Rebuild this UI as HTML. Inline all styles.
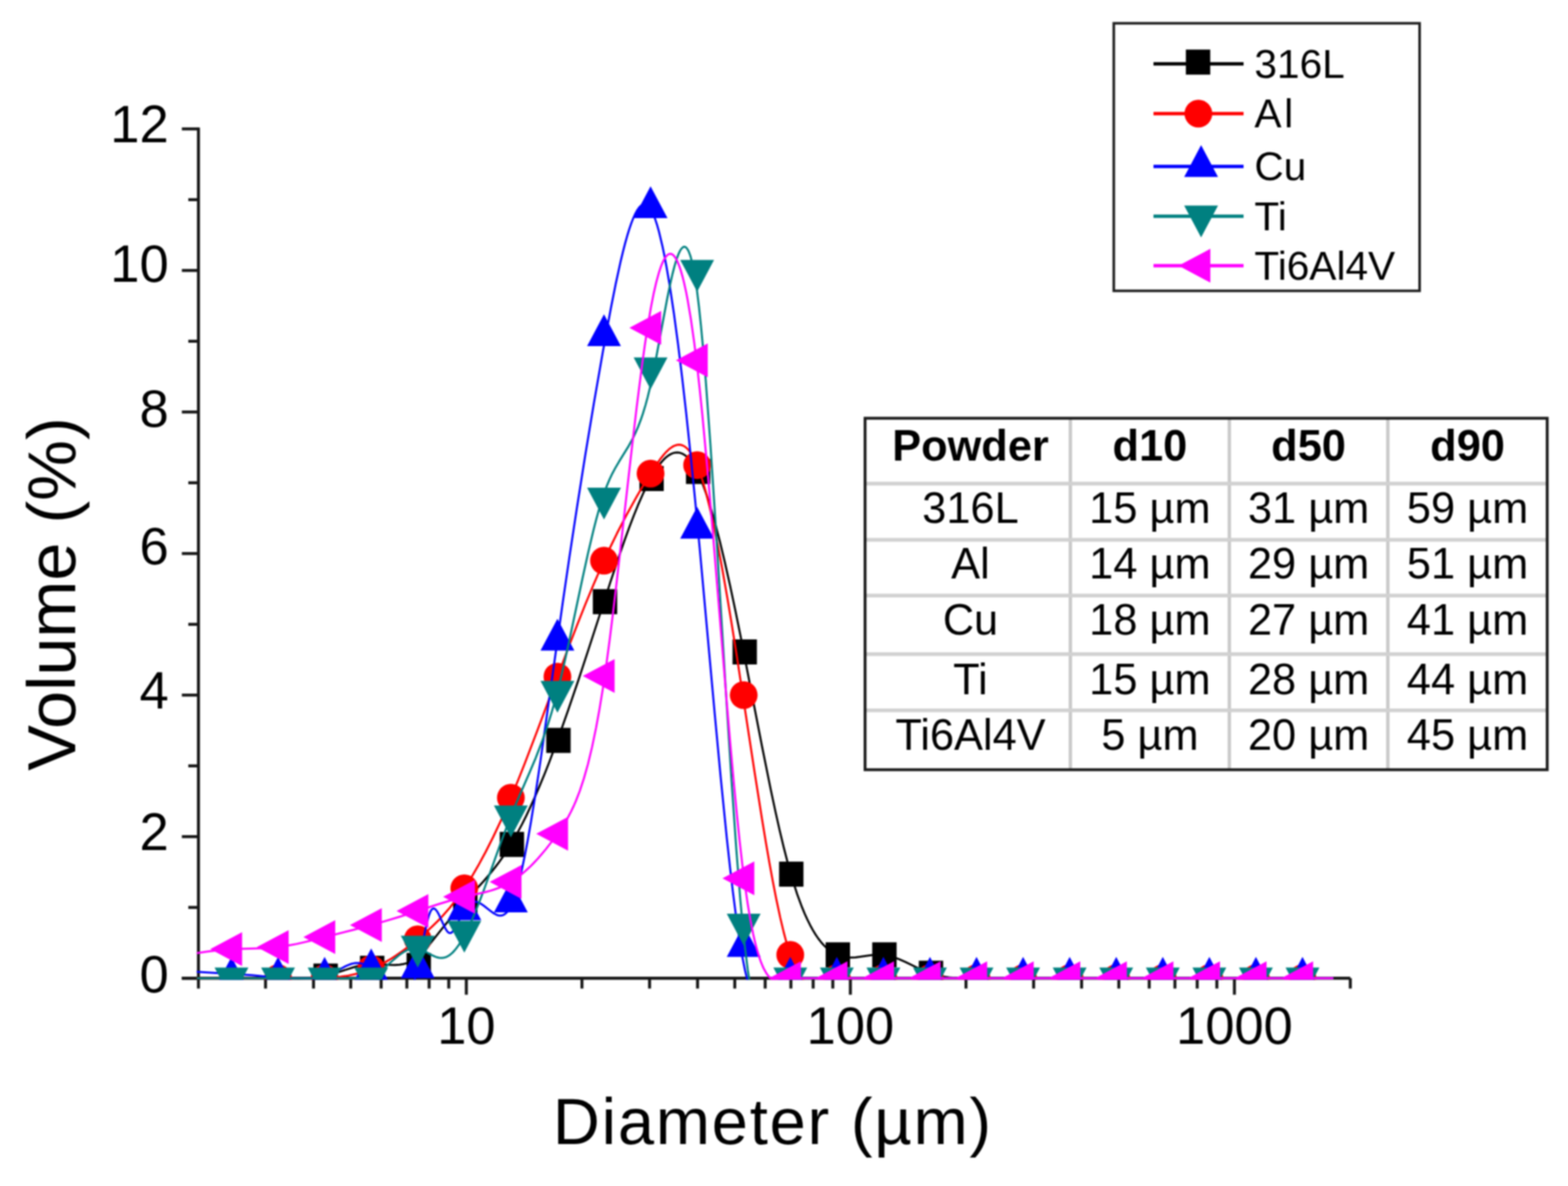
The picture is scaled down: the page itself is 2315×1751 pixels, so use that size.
<!DOCTYPE html><html><head><meta charset="utf-8"><title>Particle size distribution</title>
<style>html,body{margin:0;padding:0;background:#fff;overflow:hidden;}svg{display:block;filter:blur(0.9px);}text{font-family:"Liberation Sans", Arial, Helvetica, sans-serif;fill:#000;}</style></head><body>
<svg width="2315" height="1751" viewBox="0 0 2315 1751">
<rect width="2315" height="1751" fill="#fff"/>
<defs><clipPath id="pc"><rect x="290.5" y="188" width="1678.0" height="1258.6"/></clipPath><clipPath id="pcm"><rect x="290.5" y="188" width="1705.1" height="1258.6"/></clipPath></defs>
<path d="M293.0 188.3V1446.2" stroke="#161616" stroke-width="4.4" fill="none"/>
<path d="M268.5 1444.2H1993.6" stroke="#161616" stroke-width="4.4" fill="none"/>
<path d="M268.5 1444.20H293.0" stroke="#161616" stroke-width="4.4"/>
<path d="M278.0 1339.71H293.0" stroke="#161616" stroke-width="4.4"/>
<path d="M268.5 1235.22H293.0" stroke="#161616" stroke-width="4.4"/>
<path d="M278.0 1130.73H293.0" stroke="#161616" stroke-width="4.4"/>
<path d="M268.5 1026.24H293.0" stroke="#161616" stroke-width="4.4"/>
<path d="M278.0 921.75H293.0" stroke="#161616" stroke-width="4.4"/>
<path d="M268.5 817.26H293.0" stroke="#161616" stroke-width="4.4"/>
<path d="M278.0 712.77H293.0" stroke="#161616" stroke-width="4.4"/>
<path d="M268.5 608.28H293.0" stroke="#161616" stroke-width="4.4"/>
<path d="M278.0 503.79H293.0" stroke="#161616" stroke-width="4.4"/>
<path d="M268.5 399.30H293.0" stroke="#161616" stroke-width="4.4"/>
<path d="M278.0 294.81H293.0" stroke="#161616" stroke-width="4.4"/>
<path d="M268.5 190.32H293.0" stroke="#161616" stroke-width="4.4"/>
<path d="M293.00 1444.2V1459.5" stroke="#161616" stroke-width="4.4"/>
<path d="M392.03 1444.2V1459.5" stroke="#161616" stroke-width="4.4"/>
<path d="M462.87 1444.2V1459.5" stroke="#161616" stroke-width="4.4"/>
<path d="M517.82 1444.2V1459.5" stroke="#161616" stroke-width="4.4"/>
<path d="M562.71 1444.2V1459.5" stroke="#161616" stroke-width="4.4"/>
<path d="M600.67 1444.2V1459.5" stroke="#161616" stroke-width="4.4"/>
<path d="M633.55 1444.2V1459.5" stroke="#161616" stroke-width="4.4"/>
<path d="M662.56 1444.2V1459.5" stroke="#161616" stroke-width="4.4"/>
<path d="M688.50 1444.2V1468.6" stroke="#161616" stroke-width="4.4"/>
<path d="M859.18 1444.2V1459.5" stroke="#161616" stroke-width="4.4"/>
<path d="M959.03 1444.2V1459.5" stroke="#161616" stroke-width="4.4"/>
<path d="M1029.87 1444.2V1459.5" stroke="#161616" stroke-width="4.4"/>
<path d="M1084.82 1444.2V1459.5" stroke="#161616" stroke-width="4.4"/>
<path d="M1129.71 1444.2V1459.5" stroke="#161616" stroke-width="4.4"/>
<path d="M1167.67 1444.2V1459.5" stroke="#161616" stroke-width="4.4"/>
<path d="M1200.55 1444.2V1459.5" stroke="#161616" stroke-width="4.4"/>
<path d="M1229.56 1444.2V1459.5" stroke="#161616" stroke-width="4.4"/>
<path d="M1255.50 1444.2V1468.6" stroke="#161616" stroke-width="4.4"/>
<path d="M1426.18 1444.2V1459.5" stroke="#161616" stroke-width="4.4"/>
<path d="M1526.03 1444.2V1459.5" stroke="#161616" stroke-width="4.4"/>
<path d="M1596.87 1444.2V1459.5" stroke="#161616" stroke-width="4.4"/>
<path d="M1651.82 1444.2V1459.5" stroke="#161616" stroke-width="4.4"/>
<path d="M1696.71 1444.2V1459.5" stroke="#161616" stroke-width="4.4"/>
<path d="M1734.67 1444.2V1459.5" stroke="#161616" stroke-width="4.4"/>
<path d="M1767.55 1444.2V1459.5" stroke="#161616" stroke-width="4.4"/>
<path d="M1796.56 1444.2V1459.5" stroke="#161616" stroke-width="4.4"/>
<path d="M1822.50 1444.2V1468.6" stroke="#161616" stroke-width="4.4"/>
<path d="M1993.60 1444.2V1459.5" stroke="#161616" stroke-width="4.4"/>
<text x="249" y="1464.5" font-size="77.5" text-anchor="end">0</text>
<text x="249" y="1255.1" font-size="77.5" text-anchor="end">2</text>
<text x="249" y="1045.6" font-size="77.5" text-anchor="end">4</text>
<text x="249" y="833.1" font-size="77.5" text-anchor="end">6</text>
<text x="249" y="630.0" font-size="77.5" text-anchor="end">8</text>
<text x="249" y="415.5" font-size="77.5" text-anchor="end">10</text>
<text x="249" y="210.0" font-size="77.5" text-anchor="end">12</text>
<text x="688.5" y="1541" font-size="77.5" text-anchor="middle">10</text>
<text x="1255.5" y="1541" font-size="77.5" text-anchor="middle">100</text>
<text x="1822.5" y="1541" font-size="77.5" text-anchor="middle">1000</text>
<text transform="translate(111 1138) rotate(-90)" font-size="101">Volume (%)</text>
<text x="816.3" y="1689" font-size="96" textLength="647" lengthAdjust="spacing">Diameter (µm)</text>
<g clip-path="url(#pc)">
<path d="M273.0 1444.2 410.0 1444.2 440.0 1444.8 453.0 1444.5 464.0 1443.6 474.0 1442.1 484.0 1439.9 494.0 1437.1 514.0 1430.6 523.0 1427.8 531.0 1425.8 539.0 1424.2 546.0 1423.4 553.0 1423.2 560.0 1423.5 575.0 1424.5 583.0 1424.7 590.0 1424.2 596.0 1423.2 600.0 1422.1 604.0 1420.6 608.0 1418.7 611.0 1417.0 615.0 1414.2 618.0 1411.8 621.0 1409.1 625.0 1405.0 629.0 1400.6 634.0 1394.6 654.0 1369.4 669.0 1351.3 684.0 1334.1 714.0 1301.0 723.0 1290.5 731.0 1280.5 737.0 1272.6 742.0 1265.6 752.0 1250.4 761.0 1235.1 771.0 1216.4 777.0 1204.3 784.0 1189.4 790.0 1176.0 797.0 1159.7 804.0 1142.7 811.0 1125.0 825.0 1087.6 839.0 1048.1 854.0 1003.9 869.0 958.4 901.0 859.9 914.0 821.0 922.0 798.0 929.0 778.8 936.0 760.5 942.0 745.7 950.0 727.5 958.0 711.2 962.0 703.8 966.0 697.0 970.0 690.9 973.0 686.7 977.0 681.7 980.0 678.4 984.0 674.7 987.0 672.4 991.0 670.1 994.0 668.9 997.0 668.2 1000.0 668.0 1004.0 668.6 1007.0 669.6 1010.0 671.2 1013.0 673.4 1016.0 676.2 1019.0 679.6 1022.0 683.7 1025.0 688.3 1028.0 693.6 1031.0 699.6 1034.0 706.3 1037.0 713.6 1043.0 730.0 1049.0 748.7 1056.0 773.1 1063.0 800.1 1070.0 829.3 1078.0 865.0 1086.0 902.8 1094.0 942.3 1125.0 1101.6 1138.0 1166.0 1145.0 1198.8 1151.0 1225.5 1157.0 1250.6 1163.0 1273.9 1170.0 1298.5 1177.0 1320.2 1184.0 1339.2 1188.0 1348.8 1192.0 1357.7 1196.0 1365.7 1200.0 1373.0 1204.0 1379.6 1208.0 1385.5 1212.0 1390.7 1216.0 1395.3 1220.0 1399.3 1224.0 1402.7 1230.0 1406.9 1236.0 1409.9 1239.0 1411.1 1243.0 1412.2 1246.0 1412.9 1250.0 1413.4 1256.0 1413.7 1263.0 1413.4 1270.0 1412.6 1286.0 1410.3 1295.0 1409.5 1303.0 1409.6 1307.0 1410.1 1311.0 1410.8 1319.0 1413.0 1328.0 1416.3 1337.0 1420.3 1361.0 1432.0 1368.0 1435.0 1375.0 1437.6 1383.0 1439.9 1392.0 1441.8 1401.0 1443.1 1411.0 1443.9 1428.0 1444.3 1991.0 1444.2" fill="none" stroke="#000000" stroke-width="3.0" stroke-linejoin="round"/>
</g><g clip-path="url(#pcm)">
<rect x="462.75" y="1422.57" width="36" height="37" fill="#000000"/>
<rect x="531.50" y="1411.07" width="36" height="37" fill="#000000"/>
<rect x="600.25" y="1406.89" width="36" height="37" fill="#000000"/>
<rect x="669.00" y="1313.90" width="36" height="37" fill="#000000"/>
<rect x="737.75" y="1228.21" width="36" height="37" fill="#000000"/>
<rect x="806.50" y="1074.61" width="36" height="37" fill="#000000"/>
<rect x="875.25" y="869.81" width="36" height="37" fill="#000000"/>
<rect x="944.00" y="688.00" width="36" height="37" fill="#000000"/>
<rect x="1012.75" y="677.55" width="36" height="37" fill="#000000"/>
<rect x="1081.50" y="944.00" width="36" height="37" fill="#000000"/>
<rect x="1150.25" y="1272.10" width="36" height="37" fill="#000000"/>
<rect x="1219.00" y="1391.22" width="36" height="37" fill="#000000"/>
<rect x="1287.75" y="1391.22" width="36" height="37" fill="#000000"/>
<rect x="1356.50" y="1418.39" width="36" height="37" fill="#000000"/>
</g>
<g clip-path="url(#pc)">
<path d="M273.0 1444.2 479.0 1444.2 491.0 1443.4 503.0 1442.1 514.0 1440.4 524.0 1438.3 532.0 1436.2 539.0 1434.0 547.0 1431.0 554.0 1428.0 561.0 1424.7 569.0 1420.4 577.0 1415.7 585.0 1410.6 594.0 1404.3 603.0 1397.7 612.0 1390.6 622.0 1382.3 630.0 1375.3 638.0 1367.9 646.0 1360.1 653.0 1352.7 664.0 1340.2 675.0 1326.3 681.0 1318.0 686.0 1310.8 696.0 1295.2 706.0 1278.1 717.0 1257.8 728.0 1236.0 739.0 1212.6 747.0 1194.6 756.0 1173.6 765.0 1151.7 775.0 1126.5 793.0 1079.5 838.0 959.3 852.0 923.0 864.0 892.8 876.0 863.8 888.0 836.1 899.0 812.0 911.0 787.3 925.0 760.3 940.0 733.3 948.0 719.6 957.0 704.8 965.0 692.1 971.0 683.1 976.0 676.2 980.0 671.2 984.0 666.8 988.0 663.0 992.0 660.1 995.0 658.4 999.0 657.0 1002.0 656.6 1005.0 656.8 1008.0 657.7 1011.0 659.3 1014.0 661.7 1017.0 664.8 1020.0 668.8 1023.0 673.6 1026.0 679.4 1029.0 686.0 1031.0 691.0 1034.0 699.4 1037.0 708.6 1042.0 726.0 1048.0 749.8 1054.0 776.6 1060.0 806.1 1067.0 843.5 1074.0 883.6 1081.0 925.8 1088.0 969.8 1114.0 1139.4 1125.0 1209.1 1131.0 1245.3 1136.0 1274.0 1141.0 1301.3 1146.0 1326.9 1152.0 1355.0 1157.0 1376.0 1160.0 1387.4 1163.0 1398.0 1168.0 1413.3 1170.0 1418.6 1173.0 1425.8 1176.0 1432.1 1179.0 1437.5 1181.0 1440.6 1184.0 1444.7 1187.0 1448.0 1190.0 1450.7 1194.0 1453.2 1198.0 1454.8 1202.0 1455.5 1204.0 1455.5 1207.0 1455.3 1211.0 1454.5 1216.0 1452.9 1221.0 1450.7 1232.0 1445.6 1235.0 1444.4 1236.0 1444.2 1991.0 1444.2" fill="none" stroke="#ff0000" stroke-width="3.0" stroke-linejoin="round"/>
</g><g clip-path="url(#pcm)">
<circle cx="410.50" cy="1444.20" r="20.5" fill="#ff0000"/>
<circle cx="479.25" cy="1444.20" r="20.5" fill="#ff0000"/>
<circle cx="548.00" cy="1430.62" r="20.5" fill="#ff0000"/>
<circle cx="616.75" cy="1386.73" r="20.5" fill="#ff0000"/>
<circle cx="685.50" cy="1311.50" r="20.5" fill="#ff0000"/>
<circle cx="754.25" cy="1177.75" r="20.5" fill="#ff0000"/>
<circle cx="823.00" cy="999.07" r="20.5" fill="#ff0000"/>
<circle cx="891.75" cy="827.71" r="20.5" fill="#ff0000"/>
<circle cx="960.50" cy="699.19" r="20.5" fill="#ff0000"/>
<circle cx="1029.25" cy="686.65" r="20.5" fill="#ff0000"/>
<circle cx="1098.00" cy="1026.24" r="20.5" fill="#ff0000"/>
<circle cx="1166.75" cy="1409.72" r="20.5" fill="#ff0000"/>
<circle cx="1235.50" cy="1444.20" r="20.5" fill="#ff0000"/>
<circle cx="1304.25" cy="1444.20" r="20.5" fill="#ff0000"/>
<circle cx="1373.00" cy="1444.20" r="20.5" fill="#ff0000"/>
<circle cx="1441.75" cy="1444.20" r="20.5" fill="#ff0000"/>
<circle cx="1510.50" cy="1444.20" r="20.5" fill="#ff0000"/>
<circle cx="1579.25" cy="1444.20" r="20.5" fill="#ff0000"/>
<circle cx="1648.00" cy="1444.20" r="20.5" fill="#ff0000"/>
<circle cx="1716.75" cy="1444.20" r="20.5" fill="#ff0000"/>
<circle cx="1785.50" cy="1444.20" r="20.5" fill="#ff0000"/>
<circle cx="1854.25" cy="1444.20" r="20.5" fill="#ff0000"/>
<circle cx="1923.00" cy="1444.20" r="20.5" fill="#ff0000"/>
</g>
<g clip-path="url(#pc)">
<path d="M273.0 1433.8 372.0 1439.8 392.0 1441.7 411.0 1444.2 479.0 1444.2 481.0 1443.4 486.0 1440.8 505.0 1429.3 510.0 1426.6 514.0 1424.8 519.0 1423.0 523.0 1422.1 527.0 1421.7 531.0 1421.9 535.0 1422.8 539.0 1424.5 543.0 1427.1 547.0 1430.6 550.0 1433.9 554.0 1439.1 558.0 1444.9 571.0 1464.8 575.0 1470.2 578.0 1473.8 582.0 1477.7 585.0 1479.8 587.0 1480.7 589.0 1481.2 592.0 1481.2 594.0 1480.6 595.0 1480.1 597.0 1478.7 599.0 1476.7 601.0 1474.1 604.0 1469.0 606.0 1464.7 608.0 1459.7 610.0 1454.0 614.0 1440.1 617.0 1427.4 627.0 1377.2 631.0 1359.6 633.0 1352.5 635.0 1347.0 636.0 1344.9 637.0 1343.4 638.0 1342.2 639.0 1341.6 640.0 1341.3 641.0 1341.4 642.0 1341.9 643.0 1342.7 645.0 1345.1 648.0 1350.3 655.0 1365.7 658.0 1371.5 660.0 1374.6 661.0 1375.8 662.0 1376.7 663.0 1377.3 664.0 1377.6 665.0 1377.6 666.0 1377.2 667.0 1376.6 669.0 1374.7 671.0 1372.0 675.0 1364.6 684.0 1345.6 686.0 1342.0 688.0 1339.0 690.0 1336.6 692.0 1334.6 694.0 1333.2 696.0 1332.1 699.0 1331.3 702.0 1331.3 705.0 1332.0 708.0 1333.2 711.0 1334.9 714.0 1337.0 725.0 1345.6 729.0 1348.4 733.0 1350.5 735.0 1351.3 737.0 1351.7 739.0 1351.8 741.0 1351.6 743.0 1350.9 745.0 1349.8 747.0 1348.2 749.0 1346.1 752.0 1341.8 755.0 1336.0 757.0 1331.4 759.0 1326.0 763.0 1313.5 767.0 1298.5 771.0 1281.4 775.0 1262.4 779.0 1241.5 784.0 1213.1 791.0 1169.8 798.0 1123.1 831.0 888.5 841.0 820.4 852.0 748.2 864.0 672.6 877.0 594.3 890.0 519.8 902.0 454.6 909.0 419.4 916.0 387.2 920.0 370.6 923.0 359.0 926.0 348.3 929.0 338.5 932.0 329.7 935.0 322.0 938.0 315.4 941.0 310.0 944.0 305.8 947.0 303.0 949.0 301.9 950.0 301.5 952.0 301.4 954.0 301.9 955.0 302.4 957.0 304.0 960.0 307.6 962.0 311.0 964.0 315.1 967.0 322.6 970.0 331.7 973.0 342.3 978.0 363.3 981.0 377.8 984.0 393.7 989.0 423.1 995.0 463.0 1001.0 507.5 1007.0 556.4 1013.0 609.2 1020.0 675.3 1026.0 735.4 1033.0 809.1 1055.0 1051.4 1064.0 1147.4 1073.0 1236.8 1078.0 1282.4 1082.0 1316.4 1087.0 1355.1 1091.0 1382.8 1096.0 1412.8 1100.0 1432.9 1104.0 1449.3 1106.0 1456.3 1109.0 1465.2 1111.0 1470.3 1114.0 1476.5 1116.0 1479.8 1119.0 1483.6 1121.0 1485.4 1123.0 1486.7 1125.0 1487.4 1127.0 1487.7 1129.0 1487.5 1131.0 1486.9 1133.0 1485.9 1136.0 1483.8 1140.0 1480.0 1144.0 1475.3 1149.0 1468.5 1161.0 1451.3 1165.0 1446.2 1167.0 1444.2 1991.0 1444.2" fill="none" stroke="#0000ff" stroke-width="3.0" stroke-linejoin="round"/>
</g><g clip-path="url(#pcm)">
<path d="M341.75 1412.87L366.75 1459.87L316.75 1459.87Z" fill="#0000ff"/>
<path d="M410.50 1412.87L435.50 1459.87L385.50 1459.87Z" fill="#0000ff"/>
<path d="M479.25 1412.87L504.25 1459.87L454.25 1459.87Z" fill="#0000ff"/>
<path d="M548.00 1400.33L573.00 1447.33L523.00 1447.33Z" fill="#0000ff"/>
<path d="M616.75 1397.19L641.75 1444.19L591.75 1444.19Z" fill="#0000ff"/>
<path d="M685.50 1311.51L710.50 1358.51L660.50 1358.51Z" fill="#0000ff"/>
<path d="M754.25 1300.02L779.25 1347.02L729.25 1347.02Z" fill="#0000ff"/>
<path d="M823.00 913.40L848.00 960.40L798.00 960.40Z" fill="#0000ff"/>
<path d="M891.75 464.10L916.75 511.10L866.75 511.10Z" fill="#0000ff"/>
<path d="M960.50 274.97L985.50 321.97L935.50 321.97Z" fill="#0000ff"/>
<path d="M1029.25 748.31L1054.25 795.31L1004.25 795.31Z" fill="#0000ff"/>
<path d="M1098.00 1365.85L1123.00 1412.85L1073.00 1412.85Z" fill="#0000ff"/>
<path d="M1166.75 1412.87L1191.75 1459.87L1141.75 1459.87Z" fill="#0000ff"/>
<path d="M1235.50 1412.87L1260.50 1459.87L1210.50 1459.87Z" fill="#0000ff"/>
<path d="M1304.25 1412.87L1329.25 1459.87L1279.25 1459.87Z" fill="#0000ff"/>
<path d="M1373.00 1412.87L1398.00 1459.87L1348.00 1459.87Z" fill="#0000ff"/>
<path d="M1441.75 1412.87L1466.75 1459.87L1416.75 1459.87Z" fill="#0000ff"/>
<path d="M1510.50 1412.87L1535.50 1459.87L1485.50 1459.87Z" fill="#0000ff"/>
<path d="M1579.25 1412.87L1604.25 1459.87L1554.25 1459.87Z" fill="#0000ff"/>
<path d="M1648.00 1412.87L1673.00 1459.87L1623.00 1459.87Z" fill="#0000ff"/>
<path d="M1716.75 1412.87L1741.75 1459.87L1691.75 1459.87Z" fill="#0000ff"/>
<path d="M1785.50 1412.87L1810.50 1459.87L1760.50 1459.87Z" fill="#0000ff"/>
<path d="M1854.25 1412.87L1879.25 1459.87L1829.25 1459.87Z" fill="#0000ff"/>
<path d="M1923.00 1412.87L1948.00 1459.87L1898.00 1459.87Z" fill="#0000ff"/>
</g>
<g clip-path="url(#pc)">
<path d="M273.0 1444.2 548.0 1444.2 554.0 1440.3 560.0 1435.7 566.0 1430.6 581.0 1417.0 589.0 1410.4 593.0 1407.5 597.0 1404.9 601.0 1402.8 604.0 1401.6 608.0 1400.5 611.0 1400.0 615.0 1400.1 618.0 1400.6 621.0 1401.5 625.0 1403.3 637.0 1409.9 642.0 1412.2 645.0 1413.3 648.0 1414.0 651.0 1414.3 653.0 1414.3 656.0 1413.8 659.0 1412.9 662.0 1411.3 665.0 1409.2 668.0 1406.6 671.0 1403.4 674.0 1399.7 677.0 1395.6 683.0 1386.0 689.0 1374.8 696.0 1359.8 703.0 1343.3 709.0 1328.1 715.0 1312.2 740.0 1242.6 751.0 1213.2 756.0 1200.6 762.0 1186.1 782.0 1140.2 791.0 1118.8 800.0 1095.4 805.0 1081.3 809.0 1069.3 814.0 1053.3 819.0 1035.9 824.0 1017.1 829.0 996.8 834.0 975.3 840.0 948.1 860.0 853.9 868.0 817.5 876.0 783.6 880.0 767.9 884.0 753.3 888.0 739.8 892.0 727.7 896.0 717.1 900.0 707.6 904.0 699.2 909.0 689.9 914.0 681.4 927.0 660.4 934.0 647.8 938.0 639.6 942.0 630.4 946.0 619.9 949.0 611.2 953.0 598.1 956.0 587.1 960.0 570.8 963.0 557.1 969.0 526.9 985.0 441.1 989.0 421.6 993.0 404.0 996.0 392.4 998.0 385.6 1000.0 379.6 1002.0 374.5 1004.0 370.3 1006.0 367.2 1008.0 365.2 1009.0 364.6 1010.0 364.3 1011.0 364.4 1012.0 364.7 1013.0 365.4 1014.0 366.5 1016.0 369.6 1017.0 371.7 1019.0 377.0 1020.0 380.3 1023.0 392.5 1026.0 408.6 1029.0 428.8 1032.0 453.3 1035.0 481.8 1038.0 514.0 1042.0 562.1 1049.0 658.0 1057.0 780.7 1073.0 1042.1 1080.0 1152.0 1087.0 1252.7 1093.0 1328.3 1097.0 1371.7 1100.0 1399.9 1104.0 1431.9 1108.0 1457.7 1110.0 1468.5 1112.0 1477.9 1114.0 1486.1 1116.0 1493.0 1118.0 1498.8 1120.0 1503.4 1122.0 1507.0 1124.0 1509.7 1125.0 1510.7 1127.0 1511.9 1129.0 1512.4 1131.0 1512.1 1133.0 1511.1 1135.0 1509.4 1137.0 1507.1 1139.0 1504.3 1142.0 1499.3 1146.0 1491.3 1150.0 1482.3 1161.0 1456.1 1165.0 1447.6 1166.0 1445.6 1167.0 1444.2 1991.0 1444.2" fill="none" stroke="#008080" stroke-width="3.0" stroke-linejoin="round"/>
</g><g clip-path="url(#pcm)">
<path d="M341.75 1475.53L366.75 1428.53L316.75 1428.53Z" fill="#008080"/>
<path d="M410.50 1475.53L435.50 1428.53L385.50 1428.53Z" fill="#008080"/>
<path d="M479.25 1475.53L504.25 1428.53L454.25 1428.53Z" fill="#008080"/>
<path d="M548.00 1475.53L573.00 1428.53L523.00 1428.53Z" fill="#008080"/>
<path d="M616.75 1428.51L641.75 1381.51L591.75 1381.51Z" fill="#008080"/>
<path d="M685.50 1406.57L710.50 1359.57L660.50 1359.57Z" fill="#008080"/>
<path d="M754.25 1236.25L779.25 1189.25L729.25 1189.25Z" fill="#008080"/>
<path d="M823.00 1052.35L848.00 1005.35L798.00 1005.35Z" fill="#008080"/>
<path d="M891.75 767.09L916.75 720.09L866.75 720.09Z" fill="#008080"/>
<path d="M960.50 574.83L985.50 527.83L935.50 527.83Z" fill="#008080"/>
<path d="M1029.25 430.63L1054.25 383.63L1004.25 383.63Z" fill="#008080"/>
<path d="M1098.00 1396.12L1123.00 1349.12L1073.00 1349.12Z" fill="#008080"/>
<path d="M1166.75 1475.53L1191.75 1428.53L1141.75 1428.53Z" fill="#008080"/>
<path d="M1235.50 1475.53L1260.50 1428.53L1210.50 1428.53Z" fill="#008080"/>
<path d="M1304.25 1475.53L1329.25 1428.53L1279.25 1428.53Z" fill="#008080"/>
<path d="M1373.00 1475.53L1398.00 1428.53L1348.00 1428.53Z" fill="#008080"/>
<path d="M1441.75 1475.53L1466.75 1428.53L1416.75 1428.53Z" fill="#008080"/>
<path d="M1510.50 1475.53L1535.50 1428.53L1485.50 1428.53Z" fill="#008080"/>
<path d="M1579.25 1475.53L1604.25 1428.53L1554.25 1428.53Z" fill="#008080"/>
<path d="M1648.00 1475.53L1673.00 1428.53L1623.00 1428.53Z" fill="#008080"/>
<path d="M1716.75 1475.53L1741.75 1428.53L1691.75 1428.53Z" fill="#008080"/>
<path d="M1785.50 1475.53L1810.50 1428.53L1760.50 1428.53Z" fill="#008080"/>
<path d="M1854.25 1475.53L1879.25 1428.53L1829.25 1428.53Z" fill="#008080"/>
<path d="M1923.00 1475.53L1948.00 1428.53L1898.00 1428.53Z" fill="#008080"/>
</g>
<g clip-path="url(#pc)">
<path d="M273.0 1409.7 307.0 1404.8 320.0 1403.2 332.0 1402.1 350.0 1401.0 389.0 1399.9 406.0 1398.7 421.0 1396.8 438.0 1393.6 450.0 1390.9 464.0 1387.5 522.0 1372.7 547.0 1366.1 568.0 1360.1 590.0 1353.5 611.0 1346.8 647.0 1335.0 666.0 1329.2 684.0 1324.4 716.0 1317.2 723.0 1315.4 729.0 1313.5 736.0 1311.0 742.0 1308.5 748.0 1305.6 753.0 1302.8 758.0 1299.7 764.0 1295.5 770.0 1290.9 776.0 1285.7 782.0 1280.2 788.0 1274.1 794.0 1267.7 800.0 1260.8 806.0 1253.6 813.0 1244.6 820.0 1235.2 826.0 1226.8 831.0 1219.3 835.0 1212.9 839.0 1206.0 843.0 1198.4 847.0 1190.0 850.0 1183.1 856.0 1167.7 862.0 1149.5 868.0 1128.3 874.0 1103.5 880.0 1074.7 885.0 1047.4 890.0 1016.9 895.0 982.8 900.0 945.5 905.0 905.5 911.0 854.9 931.0 677.8 940.0 601.1 948.0 538.4 952.0 509.8 956.0 483.4 961.0 454.0 965.0 433.7 969.0 416.3 973.0 401.9 976.0 393.0 978.0 388.1 980.0 383.9 982.0 380.5 984.0 377.9 986.0 376.0 988.0 375.0 990.0 374.7 992.0 375.3 993.0 375.9 995.0 377.7 998.0 381.9 1000.0 385.7 1003.0 393.0 1005.0 399.0 1008.0 409.5 1010.0 417.6 1013.0 431.3 1015.0 441.5 1020.0 471.0 1025.0 506.1 1029.0 538.2 1033.0 574.0 1037.0 613.0 1045.0 699.1 1053.0 792.8 1073.0 1037.1 1078.0 1095.6 1083.0 1151.2 1088.0 1203.2 1092.0 1241.6 1096.0 1276.6 1100.0 1307.8 1104.0 1335.1 1108.0 1358.7 1112.0 1379.0 1114.0 1387.9 1117.0 1399.8 1121.0 1413.3 1123.0 1419.1 1126.0 1426.5 1128.0 1430.8 1131.0 1436.1 1133.0 1439.1 1136.0 1442.7 1139.0 1445.3 1142.0 1447.2 1145.0 1448.2 1147.0 1448.6 1149.0 1448.8 1152.0 1448.6 1156.0 1447.7 1167.0 1444.2 1991.0 1444.2" fill="none" stroke="#ff00ff" stroke-width="3.0" stroke-linejoin="round"/>
</g><g clip-path="url(#pcm)">
<path d="M310.42 1401.36L357.42 1376.36L357.42 1426.36Z" fill="#ff00ff"/>
<path d="M379.17 1398.22L426.17 1373.22L426.17 1423.22Z" fill="#ff00ff"/>
<path d="M447.92 1383.60L494.92 1358.60L494.92 1408.60Z" fill="#ff00ff"/>
<path d="M516.67 1365.83L563.67 1340.83L563.67 1390.83Z" fill="#ff00ff"/>
<path d="M585.42 1344.93L632.42 1319.93L632.42 1369.93Z" fill="#ff00ff"/>
<path d="M654.17 1324.04L701.17 1299.04L701.17 1349.04Z" fill="#ff00ff"/>
<path d="M722.92 1302.09L769.92 1277.09L769.92 1327.09Z" fill="#ff00ff"/>
<path d="M791.67 1231.04L838.67 1206.04L838.67 1256.04Z" fill="#ff00ff"/>
<path d="M860.42 998.03L907.42 973.03L907.42 1023.03Z" fill="#ff00ff"/>
<path d="M929.17 483.94L976.17 458.94L976.17 508.94Z" fill="#ff00ff"/>
<path d="M997.92 532.00L1044.92 507.00L1044.92 557.00Z" fill="#ff00ff"/>
<path d="M1066.67 1296.87L1113.67 1271.87L1113.67 1321.87Z" fill="#ff00ff"/>
<path d="M1135.42 1444.20L1182.42 1419.20L1182.42 1469.20Z" fill="#ff00ff"/>
<path d="M1204.17 1444.20L1251.17 1419.20L1251.17 1469.20Z" fill="#ff00ff"/>
<path d="M1272.92 1444.20L1319.92 1419.20L1319.92 1469.20Z" fill="#ff00ff"/>
<path d="M1341.67 1444.20L1388.67 1419.20L1388.67 1469.20Z" fill="#ff00ff"/>
<path d="M1410.42 1444.20L1457.42 1419.20L1457.42 1469.20Z" fill="#ff00ff"/>
<path d="M1479.17 1444.20L1526.17 1419.20L1526.17 1469.20Z" fill="#ff00ff"/>
<path d="M1547.92 1444.20L1594.92 1419.20L1594.92 1469.20Z" fill="#ff00ff"/>
<path d="M1616.67 1444.20L1663.67 1419.20L1663.67 1469.20Z" fill="#ff00ff"/>
<path d="M1685.42 1444.20L1732.42 1419.20L1732.42 1469.20Z" fill="#ff00ff"/>
<path d="M1754.17 1444.20L1801.17 1419.20L1801.17 1469.20Z" fill="#ff00ff"/>
<path d="M1822.92 1444.20L1869.92 1419.20L1869.92 1469.20Z" fill="#ff00ff"/>
<path d="M1891.67 1444.20L1938.67 1419.20L1938.67 1469.20Z" fill="#ff00ff"/>
</g>
<rect x="1644.4" y="34.4" width="451.5" height="395" fill="#fff" stroke="#1e1e1e" stroke-width="3.8"/>
<path d="M1703 94.2H1836" stroke="#000000" stroke-width="5"/>
<rect x="1750.80" y="73.20" width="36" height="37" fill="#000000"/>
<text x="1852" y="114.7" font-size="60">316L</text>
<path d="M1703 167.7H1836" stroke="#ff0000" stroke-width="5"/>
<circle cx="1769.30" cy="167.70" r="20.5" fill="#ff0000"/>
<text x="1852" y="188.2" font-size="60" letter-spacing="4">Al</text>
<path d="M1703 245.7H1836" stroke="#0000ff" stroke-width="5"/>
<path d="M1773.30 214.37L1798.30 261.37L1748.30 261.37Z" fill="#0000ff"/>
<text x="1852" y="266.2" font-size="60">Cu</text>
<path d="M1703 319.2H1836" stroke="#008080" stroke-width="5"/>
<path d="M1773.30 350.53L1798.30 303.53L1748.30 303.53Z" fill="#008080"/>
<text x="1852" y="339.7" font-size="60">Ti</text>
<path d="M1703 392.3H1836" stroke="#ff00ff" stroke-width="5"/>
<path d="M1739.97 392.30L1786.97 367.30L1786.97 417.30Z" fill="#ff00ff"/>
<text x="1852" y="412.8" font-size="60">Ti6Al4V</text>
<rect x="1277.2" y="617.5" width="1007.1" height="518.9" fill="#fff"/>
<path d="M1580.3 617.5V1136.4" stroke="#c9c9c9" stroke-width="5"/>
<path d="M1815.0 617.5V1136.4" stroke="#c9c9c9" stroke-width="5"/>
<path d="M2049.0 617.5V1136.4" stroke="#c9c9c9" stroke-width="5"/>
<path d="M1277.2 714.0H2284.3" stroke="#d1d1d1" stroke-width="5.5"/>
<path d="M1277.2 797.0H2284.3" stroke="#d1d1d1" stroke-width="5.5"/>
<path d="M1277.2 879.3H2284.3" stroke="#d1d1d1" stroke-width="5.5"/>
<path d="M1277.2 965.8H2284.3" stroke="#d1d1d1" stroke-width="5.5"/>
<path d="M1277.2 1048.7H2284.3" stroke="#d1d1d1" stroke-width="5.5"/>
<rect x="1277.2" y="617.5" width="1007.1" height="518.9" fill="none" stroke="#1a1a1a" stroke-width="4.2"/>
<text x="1432.8" y="680.0" font-size="64" text-anchor="middle" font-weight="bold">Powder</text>
<text x="1697.7" y="680.0" font-size="64" text-anchor="middle" font-weight="bold">d10</text>
<text x="1932.0" y="680.0" font-size="64" text-anchor="middle" font-weight="bold">d50</text>
<text x="2166.7" y="680.0" font-size="64" text-anchor="middle" font-weight="bold">d90</text>
<text x="1432.8" y="771.5" font-size="64" text-anchor="middle">316L</text>
<text x="1697.7" y="771.5" font-size="64" text-anchor="middle">15 µm</text>
<text x="1932.0" y="771.5" font-size="64" text-anchor="middle">31 µm</text>
<text x="2166.7" y="771.5" font-size="64" text-anchor="middle">59 µm</text>
<text x="1432.8" y="854.3" font-size="64" text-anchor="middle">Al</text>
<text x="1697.7" y="854.3" font-size="64" text-anchor="middle">14 µm</text>
<text x="1932.0" y="854.3" font-size="64" text-anchor="middle">29 µm</text>
<text x="2166.7" y="854.3" font-size="64" text-anchor="middle">51 µm</text>
<text x="1432.8" y="936.9" font-size="64" text-anchor="middle">Cu</text>
<text x="1697.7" y="936.9" font-size="64" text-anchor="middle">18 µm</text>
<text x="1932.0" y="936.9" font-size="64" text-anchor="middle">27 µm</text>
<text x="2166.7" y="936.9" font-size="64" text-anchor="middle">41 µm</text>
<text x="1432.8" y="1024.6" font-size="64" text-anchor="middle">Ti</text>
<text x="1697.7" y="1024.6" font-size="64" text-anchor="middle">15 µm</text>
<text x="1932.0" y="1024.6" font-size="64" text-anchor="middle">28 µm</text>
<text x="2166.7" y="1024.6" font-size="64" text-anchor="middle">44 µm</text>
<text x="1432.8" y="1106.8" font-size="64" text-anchor="middle">Ti6Al4V</text>
<text x="1697.7" y="1106.8" font-size="64" text-anchor="middle">5 µm</text>
<text x="1932.0" y="1106.8" font-size="64" text-anchor="middle">20 µm</text>
<text x="2166.7" y="1106.8" font-size="64" text-anchor="middle">45 µm</text>
</svg></body></html>
